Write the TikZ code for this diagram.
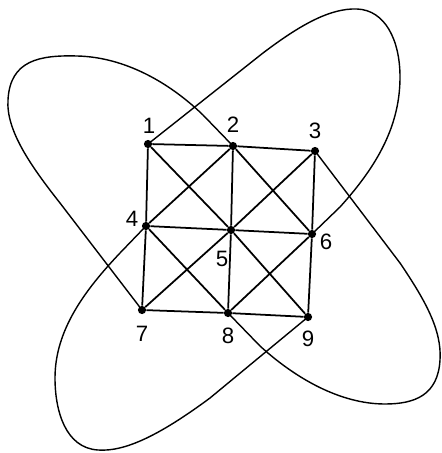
\documentclass[tikz,border=0pt]{standalone}
\usepackage{fontspec}
\setmainfont{Liberation Sans}
\begin{document}
\begin{tikzpicture}[x=0.03cm,y=-0.03cm,
  vtx/.style={circle,fill=black,inner sep=0pt,minimum size=7pt},
  lab/.style={inner sep=0pt,font=\fontsize{19}{20}\selectfont},
  gridline/.style={line width=1.5pt},
  lobe/.style={line width=1.2pt}]
\useasboundingbox (0,0) rectangle (441,453);
% vertices
\node[vtx] (n1) at (148,144) {};
\node[vtx] (n2) at (233,146) {};
\node[vtx] (n3) at (315,151) {};
\node[vtx] (n4) at (146,226) {};
\node[vtx] (n5) at (231,230) {};
\node[vtx] (n6) at (312,234) {};
\node[vtx] (n7) at (142,310) {};
\node[vtx] (n8) at (228,313) {};
\node[vtx] (n9) at (308,317) {};
% labels
\node[lab] (l1) at (149,126) {1};
\node[lab] (l2) at (233,125) {2};
\node[lab] (l3) at (315,131) {3};
\node[lab] (l4) at (132,219) {4};
\node[lab] (l5) at (222,259) {5};
\node[lab] (l6) at (326,242) {6};
\node[lab] (l7) at (142,334) {7};
\node[lab] (l8) at (228,336) {8};
\node[lab] (l9) at (308,339) {9};
% grid
\draw[gridline] (n1) -- (n2) (n2) -- (n3) (n4) -- (n5) (n5) -- (n6) (n7) -- (n8) (n8) -- (n9);
\draw[gridline] (n1) -- (n4) (n4) -- (n7) (n2) -- (n5) (n5) -- (n8) (n3) -- (n6) (n6) -- (n9);
\draw[gridline] (n1) -- (n5) (n2) -- (n4) (n2) -- (n6) (n3) -- (n5)
                (n4) -- (n8) (n5) -- (n7) (n5) -- (n9) (n6) -- (n8);
% lobes
\draw[lobe] (n7.center) -- (60,203) .. controls (30,165) and (6,130) .. (8,100)
  .. controls (10,60) and (40,55) .. (77,56)
  .. controls (125,57) and (170,83) .. (203,115) -- (n2.center);
\draw[lobe] (n1.center) -- (263,53) .. controls (300,25) and (330,8) .. (357,9)
  .. controls (385,10) and (400,40) .. (400,77)
  .. controls (400,125) and (378,165) .. (340,207) -- (n6.center);
\draw[lobe] (n3.center) -- (400,263) .. controls (425,300) and (442,330) .. (440,360)
  .. controls (438,395) and (415,404) .. (385,404)
  .. controls (340,404) and (295,378) .. (260,346) -- (n8.center);
\draw[lobe] (n9.center) -- (210,398) .. controls (160,435) and (125,452) .. (98,450)
  .. controls (65,448) and (55,410) .. (55,378)
  .. controls (55,330) and (85,290) .. (120,253) -- (n4.center);
\end{tikzpicture}
\end{document}
